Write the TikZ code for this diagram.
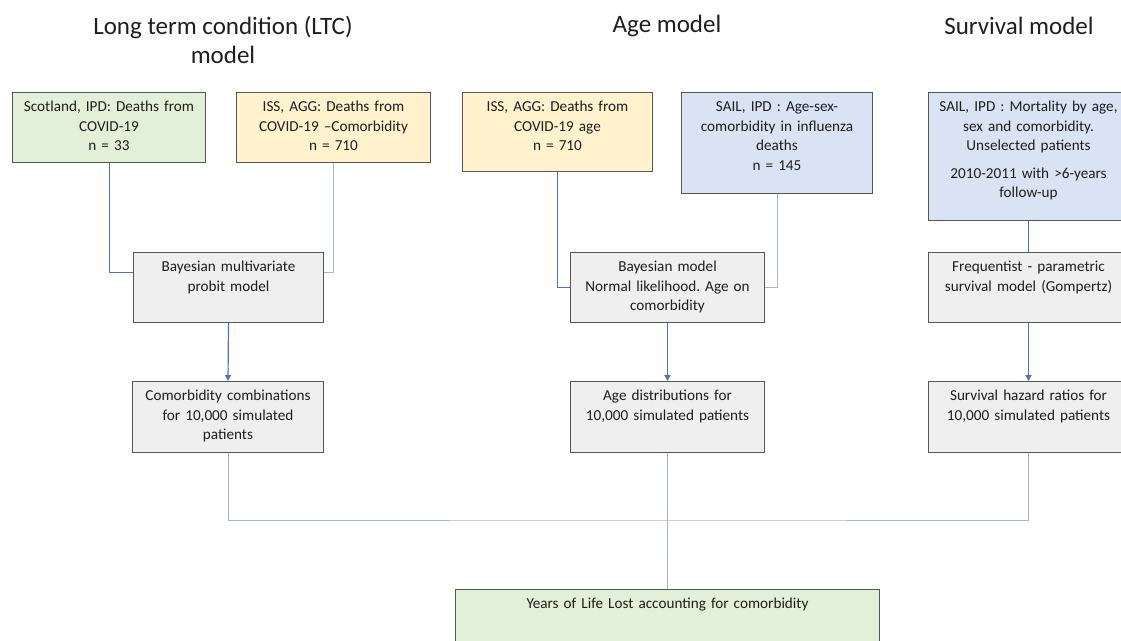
\documentclass[tikz,border=0pt]{standalone}
\usepackage{fontspec}
\setmainfont{Carlito}
\usepackage{xcolor}
\definecolor{ltcgreen}{RGB}{226,239,217}
\definecolor{issyellow}{RGB}{255,242,204}
\definecolor{sailblue}{RGB}{218,227,243}
\definecolor{stepgrey}{RGB}{239,239,239}
\definecolor{boxline}{RGB}{85,85,85}
\definecolor{boxtext}{RGB}{30,30,30}
\definecolor{linkblue}{RGB}{80,112,198}
\definecolor{linkpale}{RGB}{170,178,226}
\usepackage{tikz}
\usetikzlibrary{arrows.meta, positioning}
\frenchspacing

\tikzset{
  databox/.style={draw=boxline, line width=1pt, align=center, inner xsep=3pt, inner ysep=0pt,
    text=boxtext, text height=19pt, anchor=north west, font=\fontsize{15.2}{19.5}\selectfont},
  headtxt/.style={align=center, text=boxtext, font=\fontsize{25}{29}\selectfont},
  link/.style={linkblue, line width=1pt},
  palelink/.style={linkpale, line width=1pt},
  flowarrow/.style={linkblue, line width=1.2pt, -{Triangle[length=6pt,width=6pt]}},
}

\begin{document}
\begin{tikzpicture}[x=1pt,y=-1pt]
        \clip (0,0) rectangle (1121,640);
        % Títulos de las tres columnas
        \node[headtxt] (ltctitle) at (223,40) {Long term condition (LTC)\\model};
        \node[headtxt] (agetitle) at (667,26) {Age model};
        \node[headtxt] (survtitle) at (1019,26) {Survival model};
        % Fuentes de datos
        \node[databox, fill=ltcgreen, text width=187pt, text depth=51pt] (scot) at (12,92)
            {Scotland, IPD: Deaths from\\COVID-19\\n = 33};
        \node[databox, fill=issyellow, text width=188pt, text depth=51pt] (issltc) at (236,92)
            {ISS, AGG: Deaths from\\COVID-19 –Comorbidity\\n = 710};
        \node[databox, fill=issyellow, text width=184pt, text depth=60pt] (issage) at (462,92)
            {ISS, AGG: Deaths from\\COVID-19 age\\n = 710};
        \node[databox, fill=sailblue, text width=185pt, text depth=82pt] (sailflu) at (681,92)
            {SAIL, IPD : Age-sex-\\comorbidity in influenza\\deaths\\n = 145};
        \node[databox, fill=sailblue, text width=194pt, text depth=109pt] (sailmort) at (928,92)
            {SAIL, IPD : Mortality by age,\\sex and comorbidity.\\Unselected patients\\[8pt]2010-2011 with >6-years\\follow-up};
        % Modelos
        \node[databox, fill=stepgrey, text width=184pt, text depth=51pt] (bmp) at (133,252)
            {Bayesian multivariate\\probit model};
        \node[databox, fill=stepgrey, text width=188pt, text depth=51pt] (bayes) at (570,252)
            {Bayesian model\\Normal likelihood. Age on\\comorbidity};
        \node[databox, fill=stepgrey, text width=194pt, text depth=51pt] (gomp) at (928,252)
            {Frequentist - parametric\\survival model (Gompertz)};
        % Resultados simulados
        \node[databox, fill=stepgrey, text width=185pt, text depth=52pt] (combos) at (132,381)
            {Comorbidity combinations\\for 10,000 simulated\\patients};
        \node[databox, fill=stepgrey, text width=188pt, text depth=52pt] (agedist) at (570,381)
            {Age distributions for\\10,000 simulated patients};
        \node[databox, fill=stepgrey, text width=194pt, text depth=52pt] (hazard) at (928,381)
            {Survival hazard ratios for\\10,000 simulated patients};
        % Resultado final
        \node[databox, fill=ltcgreen, text width=418pt, text depth=61pt] (yll) at (455,589)
            {Years of Life Lost accounting for comorbidity};
        % Conexiones
        \draw[link] (scot.south) |- ([yshift=15pt]bmp.west);
        \draw[palelink] (issltc.south) |- ([yshift=15pt]bmp.east);
        \draw[link] (issage.south) |- (bayes.west);
        \draw[palelink] (sailflu.south) |- (bayes.east);
        \draw[link] (sailmort.south) -- (gomp.north);
        \draw[flowarrow] (bmp.south) -- (combos.north);
        \draw[flowarrow] (bayes.south) -- (agedist.north);
        \draw[flowarrow] (gomp.south) -- (hazard.north);
        \coordinate (merge) at (667,520);
        \draw[palelink] (combos.south) |- (merge) -| (hazard.south);
        \draw[palelink] (agedist.south) -- (yll.north);
    \end{tikzpicture}
\end{document}
